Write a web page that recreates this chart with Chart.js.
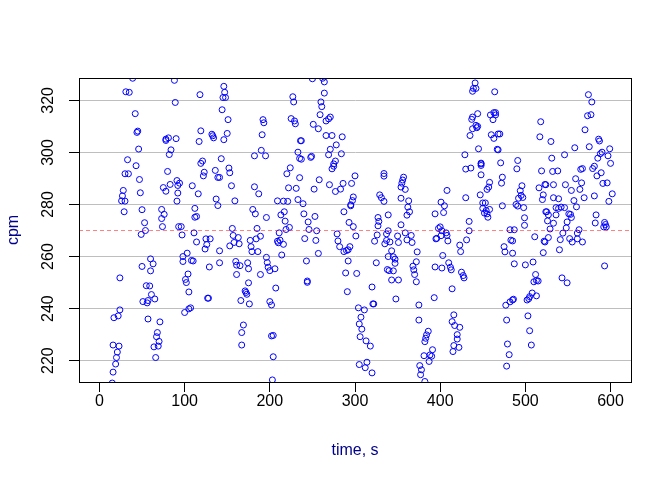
<!DOCTYPE html>
<html>
<head>
<meta charset="utf-8">
<script src="https://cdn.jsdelivr.net/npm/chart.js@4"></script>
<style>
  html, body { margin: 0; padding: 0; background: #fff; }
</style>
</head>
<body>
<canvas id="chart" width="672" height="480"></canvas>
<script>
/* time of each reading, s */
const timeS = [
  15, 16, 19, 20, 21, 16, 23, 17, 22, 24, 24, 29, 26, 30, 27, 28, 30, 34, 33, 46,
  43, 47, 48, 50, 73, 76, 73, 74, 53, 54, 49, 60, 63, 60, 50, 55, 59, 61, 65, 57,
  51, 56, 57, 71, 68, 67, 70, 69, 64, 66, 39, 31, 35, 42, 44, 45, 88, 89, 78, 81,
  78, 90, 84, 82, 80, 83, 75, 78, 91, 92, 92, 91, 93,
  146, 147, 145, 148, 118, 144, 151, 119, 117, 132, 133, 134, 150, 146, 192, 193, 191, 190, 182, 195,
  143, 121, 119, 152, 153, 123, 122, 136, 139, 141, 94, 109, 116, 155, 182, 187, 137, 139, 159, 112,
  112, 114, 180, 183, 196, 96, 97, 156, 157, 163, 185, 189, 184, 111, 114, 125, 130, 126, 124, 158,
  164, 153, 177, 178, 179, 186, 141, 103, 98, 98, 108, 110, 141, 160, 161, 165, 174, 175, 196, 197,
  198, 200, 129, 161, 189, 104, 101, 102, 175, 105, 171, 172, 173, 127, 128, 166, 176, 200, 107, 100,
  105, 169, 167, 167,
  202, 202, 204, 204, 203, 206, 207, 209, 210, 212, 216, 211, 214, 213, 217, 218, 219, 223, 209, 216,
  221, 222, 231, 220, 224, 233, 236, 237, 235, 237, 248, 249, 225, 229, 230, 227, 228, 235, 233, 239,
  240, 245, 253, 241, 246, 254, 255, 243, 257, 244, 244, 251, 257, 259, 261, 260, 264, 264, 262, 250,
  266, 269, 271, 266, 273, 285, 278, 271, 269, 284, 277, 275, 275, 273, 252, 258, 270, 277, 283, 286,
  296, 300, 298, 297, 295, 295, 287, 293, 298, 301, 279, 280, 282, 287, 292, 294, 290, 292, 289, 302,
  291, 304, 307, 305, 308, 306, 305,
  311, 313, 318, 314, 312, 320, 320, 321, 322, 325, 323, 326, 327, 327, 328, 329, 331, 334, 334, 334,
  335, 337, 339, 337, 339, 339, 343, 345, 347, 347, 338, 340, 345, 343, 351, 341, 350, 351, 348, 357,
  356, 355, 354, 359, 354, 363, 362, 364, 361, 354, 359, 361, 366, 367, 373, 372, 368, 369, 370, 372,
  375, 375, 386, 384, 383, 382, 391, 388, 390, 387, 381, 376, 378, 377, 382, 393, 394, 402, 403, 394,
  401, 404, 405, 408, 395, 396, 398, 400, 402, 401, 407, 408, 409, 410, 412, 413, 414, 416, 414, 417,
  416, 415,
  423, 420, 420, 422, 425, 427, 428, 423, 424, 431, 434, 434, 430, 429, 430, 436, 435, 438, 437, 438,
  444, 442, 443, 444, 439, 441, 442, 438, 445, 448, 448, 448, 447, 448, 450, 453, 450, 452, 454, 455,
  456, 458, 455, 457, 458, 459, 463, 465, 462, 465, 464, 460, 463, 468, 470, 467, 468, 471, 473, 472,
  473, 475, 476, 482, 485, 483, 487, 485, 487, 477, 482, 485, 486, 478, 479, 481, 478, 491, 490, 496,
  494, 495, 492, 497, 489, 491, 498, 499, 499, 500, 509, 503, 505, 507, 504, 502, 505, 508, 513, 510,
  512, 513, 515, 511, 516, 519, 518, 517, 521, 520, 523, 522, 521, 524,
  574, 578, 573, 577, 570, 530, 586, 587, 575, 558, 546, 531, 590, 588, 585, 597, 599, 600, 532, 538,
  565, 567, 579, 581, 589, 584, 591, 596, 559, 566, 524, 533, 547, 554, 564, 602, 598, 533, 539, 557,
  569, 581, 536, 539, 542, 546, 560, 525, 527, 536, 551, 553, 554, 526, 533, 549, 583, 582, 529, 548,
  563, 561, 544, 593, 594, 592, 595, 523, 527, 541, 552, 555, 561, 567, 540, 593, 543, 549
];

/* counts per minute for each reading */
const cpmValues = [
  211.4, 215.6, 218.7, 221.2, 223.3, 226.0, 225.6, 236.5, 237.2, 239.5, 251.8, 277.2, 281.4, 281.3, 283.3, 285.4, 291.8, 291.8, 297.2, 301.3,
  294.9, 289.6, 284.5, 278.0, 278.1, 276.2, 274.6, 271.5, 273.0, 270.0, 268.5, 259.1, 257.2, 254.5, 256.2, 248.8, 248.7, 245.4, 243.7, 243.1,
  242.7, 242.2, 236.0, 234.9, 230.8, 229.2, 227.4, 225.6, 225.3, 221.2, 328.5, 323.3, 323.1, 314.9, 307.7, 308.2, 327.7, 319.2, 304.6, 305.6,
  305.1, 305.3, 301.0, 299.2, 292.7, 287.7, 286.5, 285.1, 289.2, 287.3, 284.4, 281.3, 271.5,
  325.4, 323.1, 321.1, 321.1, 322.2, 316.4, 312.6, 308.3, 304.2, 307.0, 306.4, 305.6, 307.3, 304.9, 312.6, 311.4, 306.8, 300.8, 298.7, 298.7,
  297.6, 296.7, 295.8, 294.0, 292.2, 292.4, 291.0, 293.1, 290.4, 290.4, 288.2, 287.2, 284.1, 287.2, 286.8, 284.1, 282.1, 279.6, 281.4, 278.5,
  275.1, 275.4, 278.1, 276.4, 275.0, 271.5, 268.3, 270.8, 268.1, 267.3, 270.8, 267.8, 266.8, 269.1, 265.6, 266.8, 266.8, 264.6, 262.9, 265.4,
  264.9, 264.1, 266.2, 263.8, 261.9, 261.9, 262.2, 261.3, 260.0, 258.1, 258.5, 258.3, 257.6, 258.1, 256.7, 256.5, 257.6, 255.3, 259.7, 257.7,
  255.9, 254.6, 256.0, 253.1, 253.1, 253.3, 251.2, 250.0, 249.9, 246.4, 246.8, 246.2, 245.5, 244.0, 244.0, 243.1, 241.8, 242.7, 240.3, 238.5,
  239.9, 233.7, 230.8, 226.0,
  241.4, 229.5, 229.7, 221.5, 212.6, 255.3, 247.9, 265.9, 265.3, 266.3, 264.7, 269.1, 260.6, 276.0, 277.2, 273.6, 270.4, 271.2, 281.4, 281.3,
  281.2, 286.4, 286.2, 291.8, 294.1, 300.1, 304.5, 304.5, 297.7, 297.4, 298.1, 298.5, 313.0, 312.1, 311.0, 321.4, 319.4, 290.3, 281.9, 280.3,
  276.4, 273.3, 275.4, 266.9, 270.4, 266.2, 269.9, 258.3, 261.2, 250.6, 250.1, 310.8, 309.1, 314.5, 317.6, 319.4, 322.8, 327.1, 328.5, 328.3,
  312.1, 312.9, 313.6, 306.5, 306.5, 306.0, 302.9, 301.2, 299.1, 299.5, 296.7, 295.6, 294.7, 293.7, 285.9, 289.5, 287.6, 285.0, 285.9, 288.1,
  288.1, 291.0, 282.9, 281.5, 279.9, 279.5, 277.2, 273.1, 271.5, 267.9, 268.7, 266.0, 263.8, 261.9, 262.6, 263.8, 262.3, 258.3, 253.7, 253.5,
  246.5, 240.3, 236.7, 234.1, 232.1, 229.2, 218.5,
  239.5, 227.6, 225.6, 219.4, 217.3, 215.3, 248.3, 241.8, 241.8, 257.6, 265.9, 268.3, 271.8, 275.0, 273.5, 283.7, 282.6, 281.2, 291.9, 290.9,
  264.9, 266.2, 269.9, 268.7, 276.0, 260.0, 262.2, 259.9, 259.0, 257.4, 255.0, 254.6, 254.5, 251.0, 251.0, 265.6, 267.9, 265.4, 243.7, 290.5,
  289.4, 288.2, 286.7, 285.8, 282.4, 281.4, 279.0, 277.2, 275.9, 272.2, 269.1, 266.4, 268.1, 265.4, 261.8, 258.0, 256.3, 254.9, 253.1, 250.3,
  241.4, 235.6, 231.3, 229.9, 228.6, 227.3, 224.2, 222.2, 221.7, 219.7, 221.9, 218.1, 216.5, 214.6, 212.0, 244.2, 256.0, 255.6, 260.4, 276.4,
  280.9, 276.9, 279.5, 285.4, 266.8, 267.0, 270.8, 271.4, 269.9, 268.0, 269.1, 268.1, 266.0, 257.6, 255.9, 254.9, 247.6, 237.6, 235.0, 233.5,
  225.8, 223.5,
  232.8, 230.0, 228.3, 225.1, 254.0, 252.7, 251.8, 264.4, 261.9, 266.4, 269.9, 273.5, 282.6, 299.1, 293.6, 294.0, 306.5, 309.1, 312.7, 313.6,
  314.9, 310.4, 309.5, 310.0, 324.6, 326.7, 324.6, 323.5, 301.4, 291.4, 295.0, 295.6, 283.7, 295.9, 280.6, 280.6, 278.5, 276.7, 277.7, 276.4,
  275.1, 278.1, 285.8, 286.7, 288.5, 314.4, 315.3, 315.3, 312.6, 314.4, 323.3, 306.8, 305.4, 307.1, 307.1, 301.2, 301.0, 296.0, 290.5, 288.2,
  279.5, 263.8, 261.8, 270.3, 266.0, 266.3, 270.3, 261.3, 257.2, 241.3, 242.6, 243.3, 243.6, 235.6, 226.4, 222.3, 217.9, 296.9, 293.7, 287.2,
  285.3, 283.5, 282.4, 282.7, 280.0, 279.4, 278.8, 274.9, 272.0, 256.8, 257.9, 237.2, 231.5, 226.0, 243.8, 243.3, 244.6, 246.0, 244.9, 250.3,
  253.1, 250.8, 250.6, 267.6, 286.4, 292.9, 311.8, 306.0, 283.7, 281.9, 287.7, 265.9, 261.5, 277.2,
  322.2, 319.4, 314.1, 314.5, 308.7, 304.2, 305.1, 304.4, 302.2, 301.8, 299.1, 297.8, 300.1, 299.5, 297.8, 298.7, 301.4, 295.8, 292.7, 292.9,
  293.5, 293.8, 293.8, 294.7, 292.2, 291.0, 288.1, 288.3, 289.9, 288.3, 287.6, 287.6, 287.6, 285.4, 285.8, 284.1, 281.2, 282.6, 282.2, 281.5,
  282.6, 283.3, 278.8, 278.5, 279.0, 278.8, 279.1, 277.2, 276.0, 276.0, 276.4, 276.2, 275.0, 273.7, 272.8, 273.3, 276.0, 272.9, 270.6, 271.0,
  270.3, 269.0, 269.0, 273.1, 272.3, 271.4, 271.4, 265.6, 267.3, 266.5, 266.9, 265.6, 266.8, 265.6, 262.6, 256.4, 251.8, 249.9
];

const xTicks = [0, 100, 200, 300, 400, 500, 600];
const yTicks = [220, 240, 260, 280, 300, 320];
const xRange = [-24, 624];
const yRange = [211.8, 328.6];
const meanCpm = 270;

const FONT = '"Liberation Sans", Arial, sans-serif';

/* box, rotated y labels and axis titles, R style */
const rDecor = {
  id: 'rDecor',
  afterDraw(chart) {
    const { ctx, chartArea: a, scales } = chart;
    ctx.save();
    ctx.strokeStyle = '#000';
    ctx.lineWidth = 1;
    ctx.strokeRect(Math.round(a.left) + 0.5, Math.round(a.top) + 0.5,
      Math.round(a.right - a.left), Math.round(a.bottom - a.top));

    ctx.font = '16px ' + FONT;
    ctx.textAlign = 'center';
    ctx.textBaseline = 'middle';
    ctx.fillStyle = '#000';
    yTicks.forEach((v) => {
      ctx.save();
      ctx.translate(49, scales.y.getPixelForValue(v));
      ctx.rotate(-Math.PI / 2);
      ctx.fillText(String(v), 0, 0);
      ctx.restore();
    });

    ctx.fillStyle = '#00008B';
    ctx.fillText('time, s', (a.left + a.right) / 2, 451);
    ctx.translate(14, (a.top + a.bottom) / 2);
    ctx.rotate(-Math.PI / 2);
    ctx.fillText('cpm', 0, 0);
    ctx.restore();
  }
};

const points = timeS.map((t, i) => ({ x: t, y: cpmValues[i] }));
const meanLine = xRange.map((x) => ({ x: x, y: meanCpm }));

new Chart(document.getElementById('chart'), {
  type: 'scatter',
  data: {
    datasets: [
      {
        type: 'line',
        data: meanLine,
        borderColor: 'rgba(255, 0, 0, 0.5)',
        borderWidth: 1,
        borderDash: [4, 3],
        pointRadius: 0,
        fill: false,
        clip: 0
      },
      {
        data: points,
        pointStyle: 'circle',
        pointRadius: 3,
        pointBorderWidth: 1,
        borderColor: 'blue',
        backgroundColor: 'rgba(0, 0, 0, 0)',
        clip: 0
      }
    ]
  },
  options: {
    responsive: false,
    animation: false,
    events: [],
    layout: { padding: { top: 78, right: 41, left: 0, bottom: 0 } },
    plugins: { legend: { display: false }, tooltip: { enabled: false } },
    scales: {
      x: {
        type: 'linear',
        min: xRange[0],
        max: xRange[1],
        afterBuildTicks: (axis) => { axis.ticks = xTicks.map((v) => ({ value: v })); },
        afterFit: (axis) => { axis.height = 98; },
        grid: { drawOnChartArea: false, drawTicks: true, tickLength: 10, tickColor: '#000' },
        border: { display: true, color: '#000' },
        ticks: {
          color: '#000',
          font: { family: FONT, size: 16 },
          padding: 0,
          maxRotation: 0,
          autoSkip: false
        }
      },
      y: {
        type: 'linear',
        min: yRange[0],
        max: yRange[1],
        afterBuildTicks: (axis) => { axis.ticks = yTicks.map((v) => ({ value: v })); },
        afterFit: (axis) => { axis.width = 79; },
        grid: { color: '#BEBEBE', drawTicks: true, tickLength: 10, tickColor: '#000' },
        border: { display: true, color: '#000' },
        ticks: { display: false }
      }
    }
  },
  plugins: [rDecor]
});
</script>
</body>
</html>
